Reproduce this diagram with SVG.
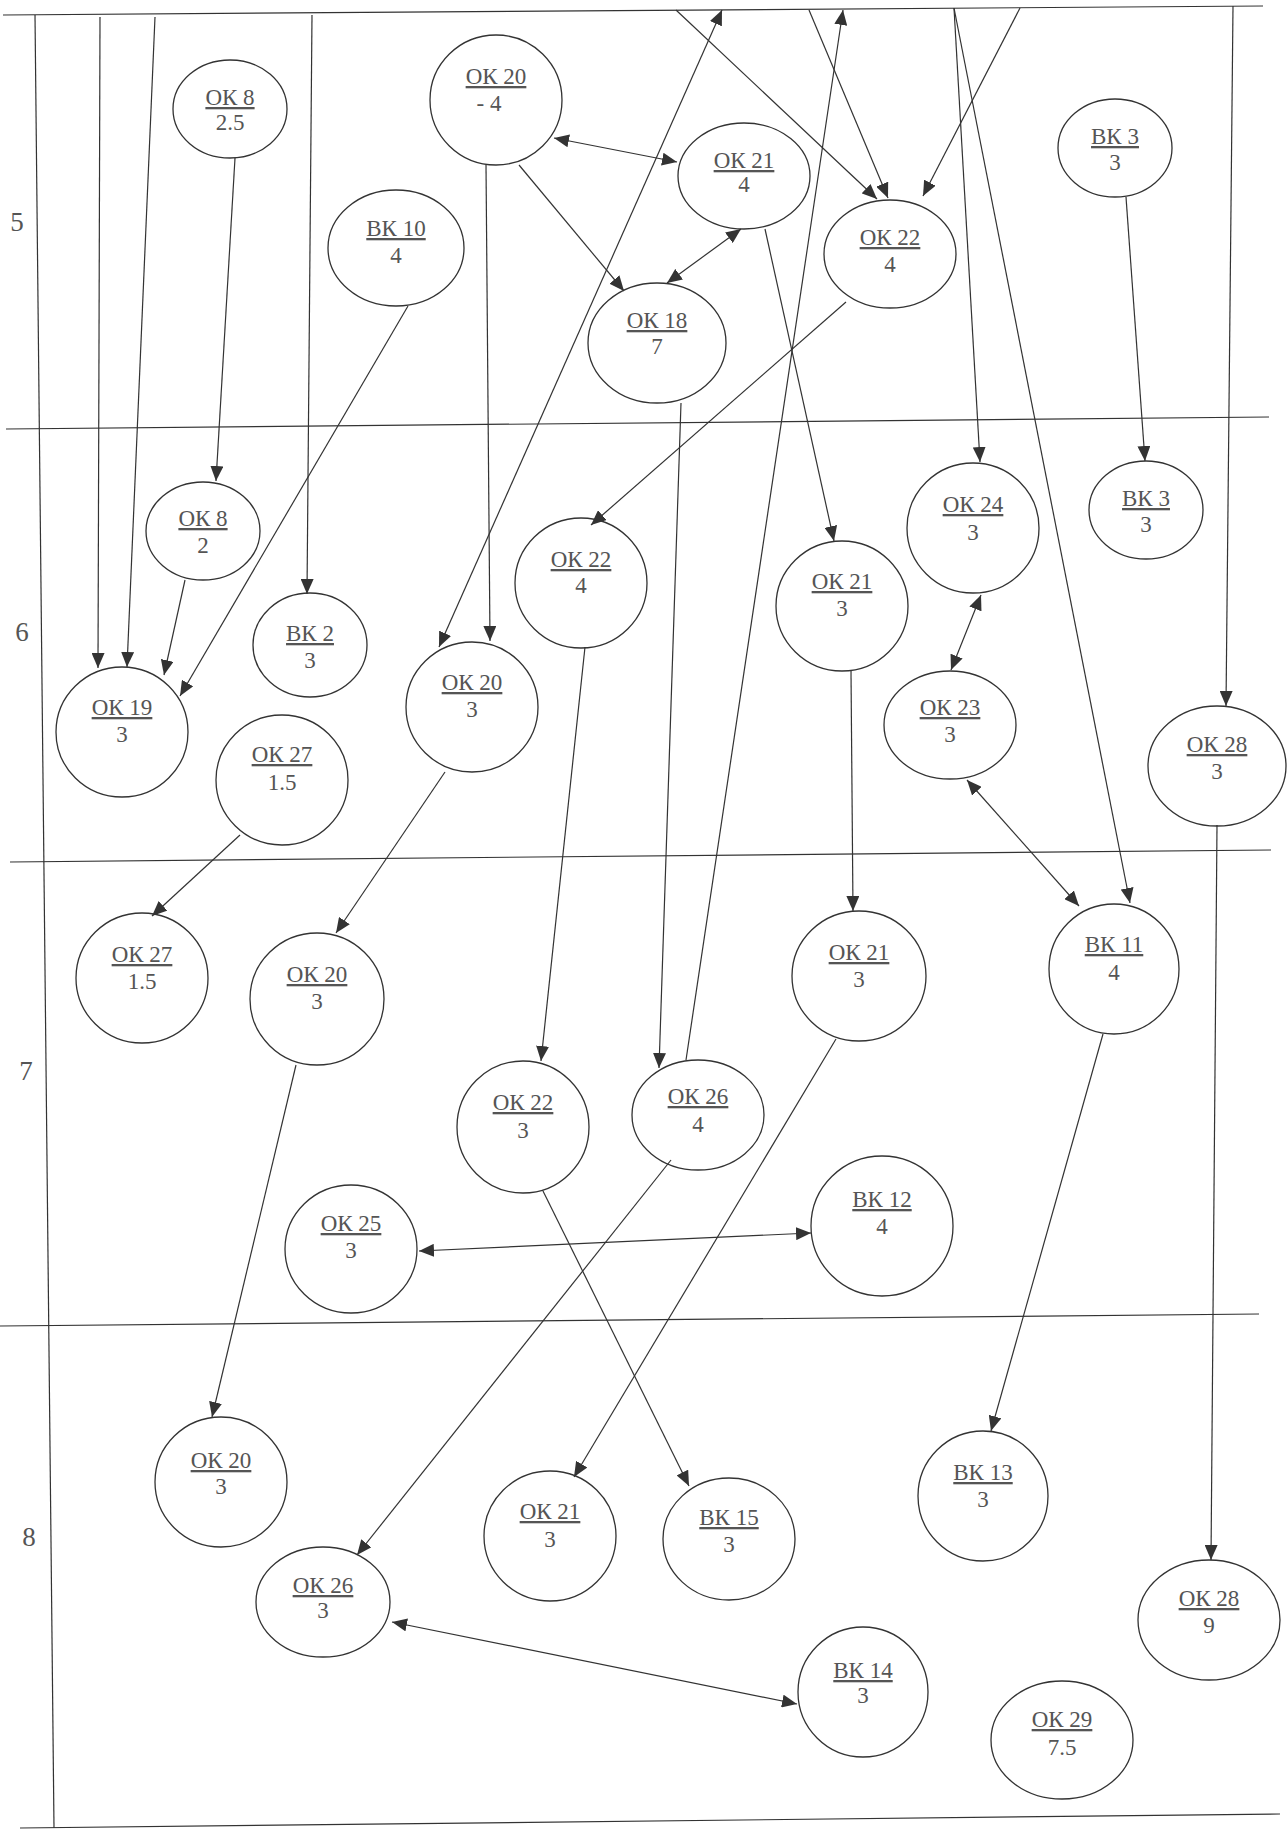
<svg xmlns="http://www.w3.org/2000/svg" width="1287" height="1831" viewBox="0 0 1287 1831">
<style>
.bg{fill:#ffffff}
.grid{stroke:#333;stroke-width:1.2;fill:none}
.node ellipse{fill:none;stroke:#333;stroke-width:1.3}
.node text{font-family:"Liberation Serif","Times New Roman",serif;font-size:23px;fill:#555;text-anchor:middle}
.node text.t{text-decoration:underline}
.row{font-family:"Liberation Serif","Times New Roman",serif;font-size:27px;fill:#555;text-anchor:middle}
#connectors line{stroke:#333;stroke-width:1.2;fill:none}
.e{marker-end:url(#ah)}
.b{marker-end:url(#ah);marker-start:url(#ah)}
</style>
<defs>
<marker id="ah" markerUnits="userSpaceOnUse" markerWidth="16" markerHeight="13" refX="15" refY="6.5" orient="auto-start-reverse" viewBox="0 0 16 13">
<path d="M0,0 L15,6.5 L0,13 z" fill="#333"/>
</marker>
</defs>
<rect class="bg" x="0" y="0" width="1287" height="1831"/>
<g id="grid">
<line class="grid" x1="3" y1="15" x2="1263" y2="6"/>
<line class="grid" x1="6" y1="429" x2="1269" y2="417"/>
<line class="grid" x1="10" y1="862" x2="1271" y2="850"/>
<line class="grid" x1="0" y1="1326" x2="1259" y2="1314"/>
<line class="grid" x1="20" y1="1828" x2="1280" y2="1814"/>
<line class="grid" x1="35" y1="15" x2="54" y2="1828"/>
<text class="row" x="17" y="231">5</text>
<text class="row" x="22" y="641">6</text>
<text class="row" x="26" y="1080">7</text>
<text class="row" x="29" y="1546">8</text>
</g>
<g id="connectors">
<line class="e" x1="100" y1="17" x2="98" y2="668"/>
<line class="e" x1="155" y1="17" x2="127" y2="667"/>
<line class="e" x1="312" y1="15" x2="307" y2="594"/>
<line class="e" x1="235" y1="158" x2="216" y2="481"/>
<line class="e" x1="185" y1="580" x2="164" y2="675"/>
<line class="e" x1="408" y1="306" x2="180" y2="696"/>
<line class="e" x1="486" y1="165" x2="490" y2="641"/>
<line class="e" x1="519" y1="165" x2="624" y2="291"/>
<line class="b" x1="554" y1="138" x2="677" y2="162"/>
<line class="b" x1="741" y1="229" x2="667" y2="283"/>
<line class="b" x1="439" y1="647" x2="722" y2="10"/>
<line class="e" x1="686" y1="1060" x2="843" y2="10"/>
<line class="e" x1="676" y1="10" x2="877" y2="199"/>
<line class="e" x1="809" y1="10" x2="888" y2="198"/>
<line class="e" x1="1020" y1="8" x2="923" y2="196"/>
<line class="e" x1="954" y1="8" x2="980" y2="462"/>
<line class="e" x1="954" y1="8" x2="1130" y2="903"/>
<line class="e" x1="1233" y1="6" x2="1226" y2="706"/>
<line class="e" x1="1126" y1="197" x2="1145" y2="461"/>
<line class="e" x1="765" y1="229" x2="834" y2="541"/>
<line class="e" x1="846" y1="302" x2="591" y2="525"/>
<line class="e" x1="681" y1="403" x2="659" y2="1068"/>
<line class="b" x1="981" y1="595" x2="951" y2="670"/>
<line class="b" x1="967" y1="780" x2="1079" y2="906"/>
<line class="e" x1="851" y1="671" x2="853" y2="911"/>
<line class="e" x1="1217" y1="825" x2="1211" y2="1560"/>
<line class="e" x1="240" y1="835" x2="152" y2="916"/>
<line class="e" x1="445" y1="772" x2="336" y2="933"/>
<line class="e" x1="585" y1="647" x2="541" y2="1061"/>
<line class="e" x1="296" y1="1065" x2="212" y2="1417"/>
<line class="e" x1="543" y1="1191" x2="689" y2="1486"/>
<line class="e" x1="671" y1="1160" x2="357" y2="1555"/>
<line class="e" x1="836" y1="1039" x2="574" y2="1477"/>
<line class="e" x1="1103" y1="1034" x2="991" y2="1431"/>
<line class="b" x1="419" y1="1251" x2="811" y2="1233"/>
<line class="b" x1="392" y1="1622" x2="797" y2="1704"/>
</g>
<g id="n_ok8a" class="node"><ellipse cx="230" cy="109" rx="57" ry="49"/><text class="t" x="230" y="105">ОК 8</text><text x="230" y="130">2.5</text></g>
<g id="n_ok20a" class="node"><ellipse cx="496" cy="100" rx="66" ry="65"/><text class="t" x="496" y="84">ОК 20</text><text x="489" y="111">- 4</text></g>
<g id="n_vk10" class="node"><ellipse cx="396" cy="248" rx="68" ry="58"/><text class="t" x="396" y="236">ВК 10</text><text x="396" y="263">4</text></g>
<g id="n_ok21a" class="node"><ellipse cx="744" cy="176" rx="66" ry="53"/><text class="t" x="744" y="168">ОК 21</text><text x="744" y="192">4</text></g>
<g id="n_ok22a" class="node"><ellipse cx="890" cy="254" rx="66" ry="54"/><text class="t" x="890" y="245">ОК 22</text><text x="890" y="272">4</text></g>
<g id="n_ok18" class="node"><ellipse cx="657" cy="343" rx="69" ry="60"/><text class="t" x="657" y="328">ОК 18</text><text x="657" y="354">7</text></g>
<g id="n_vk3a" class="node"><ellipse cx="1115" cy="148" rx="57" ry="49"/><text class="t" x="1115" y="144">ВК 3</text><text x="1115" y="170">3</text></g>
<g id="n_vk3b" class="node"><ellipse cx="1146" cy="510" rx="57" ry="49"/><text class="t" x="1146" y="506">ВК 3</text><text x="1146" y="532">3</text></g>
<g id="n_ok24" class="node"><ellipse cx="973" cy="528" rx="66" ry="65"/><text class="t" x="973" y="512">ОК 24</text><text x="973" y="540">3</text></g>
<g id="n_ok21b" class="node"><ellipse cx="842" cy="606" rx="66" ry="65"/><text class="t" x="842" y="589">ОК 21</text><text x="842" y="616">3</text></g>
<g id="n_ok8b" class="node"><ellipse cx="203" cy="531" rx="57" ry="49"/><text class="t" x="203" y="526">ОК 8</text><text x="203" y="553">2</text></g>
<g id="n_ok22b" class="node"><ellipse cx="581" cy="583" rx="66" ry="65"/><text class="t" x="581" y="567">ОК 22</text><text x="581" y="593">4</text></g>
<g id="n_vk2" class="node"><ellipse cx="310" cy="645" rx="57" ry="52"/><text class="t" x="310" y="641">ВК 2</text><text x="310" y="668">3</text></g>
<g id="n_ok19" class="node"><ellipse cx="122" cy="732" rx="66" ry="65"/><text class="t" x="122" y="715">ОК 19</text><text x="122" y="742">3</text></g>
<g id="n_ok20b" class="node"><ellipse cx="472" cy="707" rx="66" ry="65"/><text class="t" x="472" y="690">ОК 20</text><text x="472" y="717">3</text></g>
<g id="n_ok27a" class="node"><ellipse cx="282" cy="780" rx="66" ry="65"/><text class="t" x="282" y="762">ОК 27</text><text x="282" y="790">1.5</text></g>
<g id="n_ok23" class="node"><ellipse cx="950" cy="725" rx="66" ry="54"/><text class="t" x="950" y="715">ОК 23</text><text x="950" y="742">3</text></g>
<g id="n_ok28a" class="node"><ellipse cx="1217" cy="766" rx="69" ry="60"/><text class="t" x="1217" y="752">ОК 28</text><text x="1217" y="779">3</text></g>
<g id="n_ok27b" class="node"><ellipse cx="142" cy="978" rx="66" ry="65"/><text class="t" x="142" y="962">ОК 27</text><text x="142" y="989">1.5</text></g>
<g id="n_ok20c" class="node"><ellipse cx="317" cy="999" rx="67" ry="66"/><text class="t" x="317" y="982">ОК 20</text><text x="317" y="1009">3</text></g>
<g id="n_ok21c" class="node"><ellipse cx="859" cy="976" rx="67" ry="65"/><text class="t" x="859" y="960">ОК 21</text><text x="859" y="987">3</text></g>
<g id="n_vk11" class="node"><ellipse cx="1114" cy="969" rx="65" ry="65"/><text class="t" x="1114" y="952">ВК 11</text><text x="1114" y="980">4</text></g>
<g id="n_ok22c" class="node"><ellipse cx="523" cy="1127" rx="66" ry="66"/><text class="t" x="523" y="1110">ОК 22</text><text x="523" y="1138">3</text></g>
<g id="n_ok26a" class="node"><ellipse cx="698" cy="1115" rx="66" ry="55"/><text class="t" x="698" y="1104">ОК 26</text><text x="698" y="1132">4</text></g>
<g id="n_ok25" class="node"><ellipse cx="351" cy="1249" rx="66" ry="64"/><text class="t" x="351" y="1231">ОК 25</text><text x="351" y="1258">3</text></g>
<g id="n_vk12" class="node"><ellipse cx="882" cy="1226" rx="71" ry="70"/><text class="t" x="882" y="1207">ВК 12</text><text x="882" y="1234">4</text></g>
<g id="n_ok20d" class="node"><ellipse cx="221" cy="1482" rx="66" ry="65"/><text class="t" x="221" y="1468">ОК 20</text><text x="221" y="1494">3</text></g>
<g id="n_ok26b" class="node"><ellipse cx="323" cy="1602" rx="67" ry="55"/><text class="t" x="323" y="1593">ОК 26</text><text x="323" y="1618">3</text></g>
<g id="n_ok21d" class="node"><ellipse cx="550" cy="1536" rx="66" ry="65"/><text class="t" x="550" y="1519">ОК 21</text><text x="550" y="1547">3</text></g>
<g id="n_vk15" class="node"><ellipse cx="729" cy="1539" rx="66" ry="61"/><text class="t" x="729" y="1525">ВК 15</text><text x="729" y="1552">3</text></g>
<g id="n_vk13" class="node"><ellipse cx="983" cy="1496" rx="65" ry="65"/><text class="t" x="983" y="1480">ВК 13</text><text x="983" y="1507">3</text></g>
<g id="n_ok28b" class="node"><ellipse cx="1209" cy="1620" rx="71" ry="60"/><text class="t" x="1209" y="1606">ОК 28</text><text x="1209" y="1633">9</text></g>
<g id="n_vk14" class="node"><ellipse cx="863" cy="1692" rx="65" ry="65"/><text class="t" x="863" y="1678">ВК 14</text><text x="863" y="1703">3</text></g>
<g id="n_ok29" class="node"><ellipse cx="1062" cy="1740" rx="71" ry="59"/><text class="t" x="1062" y="1727">ОК 29</text><text x="1062" y="1755">7.5</text></g>
</svg>
